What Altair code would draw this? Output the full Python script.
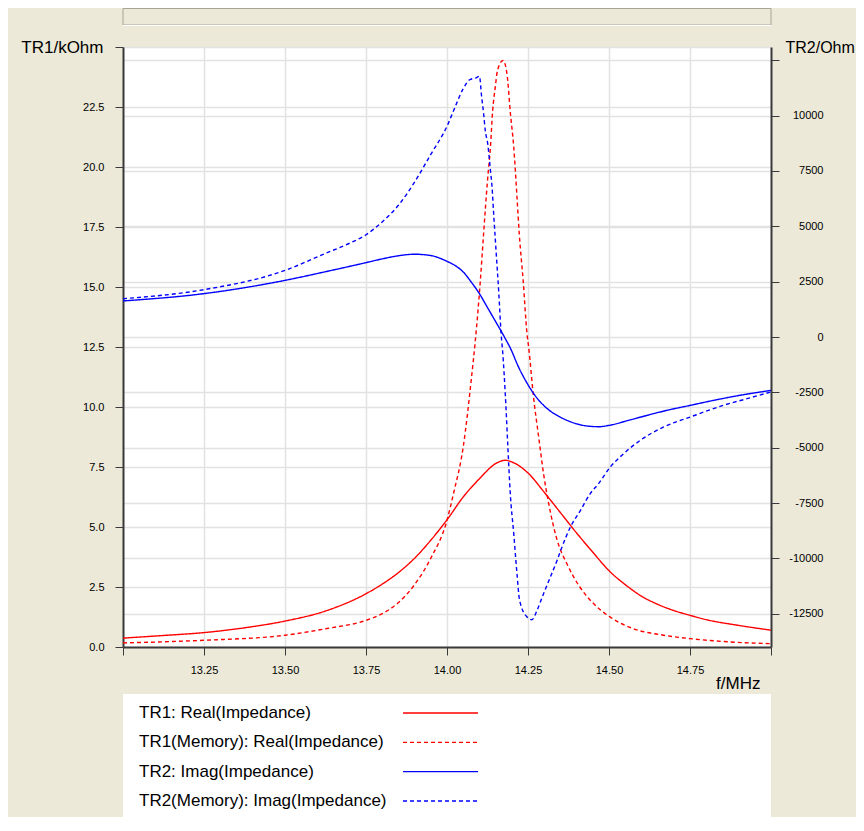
import altair as alt
import pandas as pd

# ---------------- data ----------------
NAMES = ["TR1: Real(Impedance)", "TR1(Memory): Real(Impedance)",
         "TR2: Imag(Impedance)", "TR2(Memory): Imag(Impedance)"]
COLORS = ["#FF0000", "#FF0000", "#0000FF", "#0000FF"]
DASHES = [[1, 0], [4, 3], [1, 0], [4, 3]]

# TR1 real (kOhm)
F_R1 = [13.0, 13.125, 13.25, 13.375, 13.5, 13.625, 13.75, 13.8, 13.85, 13.9, 13.95, 14.0,
        14.05, 14.1, 14.15, 14.18, 14.2, 14.25, 14.3, 14.35, 14.4, 14.45, 14.5, 14.55,
        14.6, 14.65, 14.7, 14.75, 14.8, 14.9, 15.0]
V_R1 = [0.37, 0.48, 0.6, 0.8, 1.08, 1.5, 2.22, 2.62, 3.1, 3.7, 4.45, 5.3,
        6.25, 7.01, 7.64, 7.78, 7.71, 7.25, 6.45, 5.6, 4.75, 3.95, 3.18, 2.6,
        2.12, 1.78, 1.52, 1.32, 1.14, 0.9, 0.7]

# TR1 memory real (kOhm)
F_R1M = [13.0, 13.25, 13.5, 13.625, 13.75, 13.8, 13.85, 13.9, 13.95, 14.0, 14.02, 14.05,
         14.077, 14.087, 14.103, 14.113, 14.125, 14.134, 14.141, 14.149, 14.156, 14.173,
         14.185, 14.196, 14.206, 14.216, 14.223, 14.235, 14.247, 14.252, 14.267, 14.283,
         14.298, 14.314, 14.34, 14.37, 14.41, 14.453, 14.5, 14.576, 14.669, 14.75, 14.874, 15.0]
V_R1M = [0.17, 0.28, 0.49, 0.76, 1.11, 1.39, 1.85, 2.6, 3.7, 5.28, 6.39, 8.33,
         11.4, 12.7, 15.28, 17.22, 19.44, 20.83, 22.36, 23.33, 24.03, 24.44,
         23.89, 22.2, 20.83, 18.75, 17.22, 15.28, 13.05, 12.5, 10.42, 8.75,
         7.22, 5.97, 4.45, 3.47, 2.5, 1.8, 1.28, 0.76, 0.49, 0.35, 0.21, 0.14]

# TR2 imag (Ohm)
F_I2 = [13.0, 13.25, 13.5, 13.625, 13.75, 13.8, 13.85, 13.9, 13.95, 14.0, 14.025, 14.05,
        14.075, 14.1, 14.125, 14.15, 14.175, 14.2, 14.216, 14.247, 14.278, 14.309,
        14.34, 14.37, 14.4, 14.44, 14.47, 14.5, 14.566, 14.617, 14.679, 14.751, 14.823,
        14.905, 15.0]
V_I2 = [1630, 1960, 2560, 2950, 3360, 3530, 3670, 3740, 3680, 3420, 3230, 2940,
        2480, 1960, 1330, 700, 60, -640, -1200, -2080, -2760, -3230,
        -3540, -3760, -3920, -4030, -4050, -3990, -3740, -3540, -3310, -3085, -2860,
        -2630, -2410]

# TR2 memory imag (Ohm)
F_I2M = [13.0, 13.25, 13.5, 13.625, 13.7, 13.75, 13.8, 13.85, 13.9, 13.95, 14.0, 14.025, 14.05,
         14.07, 14.09, 14.1, 14.107, 14.113, 14.118, 14.126, 14.134, 14.139, 14.144,
         14.152, 14.16, 14.167, 14.172, 14.18, 14.188, 14.195, 14.206, 14.216, 14.224,
         14.247, 14.262, 14.278, 14.298, 14.319, 14.34, 14.355, 14.381, 14.412, 14.442,
         14.468, 14.504, 14.545, 14.597, 14.669, 14.751, 14.854, 14.926, 15.0]
V_I2M = [1730, 2140, 3010, 3780, 4240, 4620, 5200, 5950, 7000, 8250, 9520, 10390, 11220,
         11620, 11710, 11780, 10840, 10090, 9340, 8700, 7530, 6780, 5570,
         3765, 1960, 150, -700, -2600, -5000, -7000, -8880, -10690, -11890,
         -12645, -12766, -12340, -11590, -10840, -10080, -9480, -8580, -7830, -7070,
         -6620, -5870, -5270, -4660, -4060, -3610, -3080, -2785, -2480]

X_TICKS = [13.0, 13.25, 13.5, 13.75, 14.0, 14.25, 14.5, 14.75, 15.0]
L_TICKS = [0, 2.5, 5, 7.5, 10, 12.5, 15, 17.5, 20, 22.5, 25]
R_TICKS = [-12500, -10000, -7500, -5000, -2500, 0, 2500, 5000, 7500, 10000, 12500]

# ---------------- tables ----------------
df1 = pd.DataFrame({
    "f": F_R1 + F_R1M,
    "v": V_R1 + V_R1M,
    "series": [NAMES[0]] * len(F_R1) + [NAMES[1]] * len(F_R1M),
})
df2 = pd.DataFrame({
    "f": F_I2 + F_I2M,
    "v": V_I2 + V_I2M,
    "series": [NAMES[2]] * len(F_I2) + [NAMES[3]] * len(F_I2M),
})
leg = pd.DataFrame({"series": NAMES, "row": [0, 1, 2, 3]})
one = pd.DataFrame({"a": [0]})

FONT = "Liberation Sans"
W, H = 648, 600
BG = "#ECE9D8"
AX = "#3A3A3A"
GRID = "#E2E2E2"

color = alt.Color("series:N", scale=alt.Scale(domain=NAMES, range=COLORS), legend=None)
dash = alt.StrokeDash("series:N", scale=alt.Scale(domain=NAMES, range=DASHES), legend=None)

common_axis = dict(labelFont=FONT, labelFontSize=11, labelColor="black",
                   titleFont=FONT, titleFontSize=17, titleFontWeight="normal",
                   titleColor="black", tickSize=8, tickColor=AX, domainColor=AX,
                   domainWidth=2, grid=True, gridColor=GRID, gridWidth=1.5)

xenc = alt.X("f:Q", scale=alt.Scale(domain=[13, 15], nice=False, zero=False),
             axis=alt.Axis(values=X_TICKS, title="f/MHz",
                           labelExpr="datum.value <= 13 || datum.value >= 15 ? '' : format(datum.value, '.2f')",
                           labelPadding=9, titleX=637, titleY=36, titleAlign="right",
                           titleBaseline="middle", titleAngle=0, labelFlush=False,
                           labelOverlap=False, **common_axis))

lines1 = alt.Chart(df1).mark_line(strokeWidth=1.4, interpolate="monotone").encode(
    x=xenc,
    y=alt.Y("v:Q", scale=alt.Scale(domain=[0, 25], nice=False, zero=False),
            axis=alt.Axis(orient="left", values=L_TICKS, title="TR1/kOhm",
                          labelExpr="datum.value >= 25 ? '' : format(datum.value, '.1f')",
                          labelPadding=11, titleX=-20, titleY=0, titleAlign="right",
                          titleBaseline="middle", titleAngle=0, labelOverlap=False,
                          labelFlush=False, **common_axis)),
    color=color, strokeDash=dash,
)

axis_r = dict(common_axis)
axis_r["titleFontSize"] = 16
lines2 = alt.Chart(df2).mark_line(strokeWidth=1.4, interpolate="monotone").encode(
    x=alt.X("f:Q"),
    y=alt.Y("v:Q", scale=alt.Scale(domain=[-14000, 13100], nice=False, zero=False),
            axis=alt.Axis(orient="right", values=R_TICKS, title="TR2/Ohm",
                          labelExpr="datum.value >= 12500 ? '' : '' + datum.value",
                          labelAlign="right", labelPadding=44, titleX=14, titleY=0,
                          titleAlign="left", titleBaseline="middle", titleAngle=0,
                          labelOverlap=False, labelFlush=False, **axis_r)),
    color=color, strokeDash=dash,
)

# top inset box
top_box = alt.Chart(one).mark_rect(fill=BG, stroke="#A8A595", strokeWidth=1).encode(
    x=alt.value(0), x2=alt.value(W), y=alt.value(-38.5), y2=alt.value(-22))
top_hi = alt.Chart(one).mark_rule(color="white", strokeWidth=1).encode(
    x=alt.value(0), x2=alt.value(W), y=alt.value(-21.5))

# legend box
leg_box = alt.Chart(one).mark_rect(fill="white").encode(
    x=alt.value(0), x2=alt.value(W), y=alt.value(647), y2=alt.value(772))

row_scale = alt.Scale(domain=[0, 3], range=[666, 754])
leg_text = alt.Chart(leg).mark_text(align="left", baseline="middle", font=FONT,
                                    fontSize=17, color="black").encode(
    x=alt.value(16),
    y=alt.Y("row:Q", scale=row_scale, axis=None),
    text="series:N",
)
leg_lines = alt.Chart(leg).mark_rule(strokeWidth=1.4).encode(
    x=alt.value(280), x2=alt.value(355),
    y=alt.Y("row:Q", scale=row_scale, axis=None),
    color=color, strokeDash=dash,
)

chart = alt.layer(top_box, top_hi, leg_box, lines1, lines2, leg_text, leg_lines).resolve_scale(
    y="independent"
).properties(
    width=W, height=H,
    autosize=alt.AutoSizeParams(type="none"),
    padding={"left": 115, "top": 39, "right": 85, "bottom": 170},
    background=BG,
).configure_view(fill="white", strokeWidth=0)

chart.save("out.html", embed_options={"renderer": "svg", "actions": False})
